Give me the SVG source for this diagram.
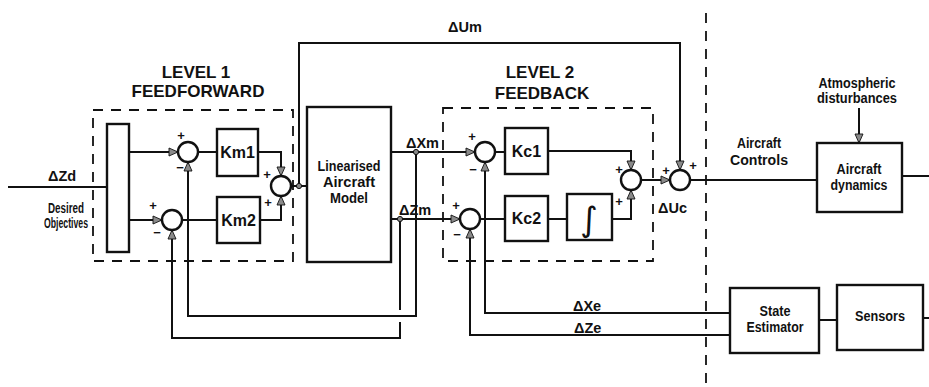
<svg xmlns="http://www.w3.org/2000/svg" width="929" height="387" viewBox="0 0 929 387">
<style>
text{font-family:"Liberation Sans",Arial,sans-serif;font-weight:bold;fill:#111}
.box{fill:#fff;stroke:#111;stroke-width:2.4}
.sum{fill:#fff;stroke:#111;stroke-width:2.4}
.dash{fill:none;stroke:#111;stroke-width:1.8;stroke-dasharray:10 8}
.ln{fill:none;stroke:#111;stroke-width:2}
.ar{fill:none;stroke:#111;stroke-width:2;marker-end:url(#ah)}
.dot{fill:#888;stroke:#111;stroke-width:1}
.t16{font-size:16px;text-anchor:middle}
.t17{font-size:17px;text-anchor:middle}
.t14{font-size:14.5px}
.t13{font-size:14px;text-anchor:middle}
.sg{font-size:13px;text-anchor:middle}
</style>
<defs>
<marker id="ah" markerUnits="userSpaceOnUse" markerWidth="11" markerHeight="10" refX="10" refY="5" orient="auto">
<path d="M1,1 L10,5 L1,9 z" fill="#8a8a8a" stroke="#111" stroke-width="0.9"/>
</marker>
</defs>

<!-- region frames -->
<g id="level1-frame">
<rect class="dash" x="93" y="110" width="200" height="151"/>
<text class="t17" x="196" y="78">LEVEL 1</text>
<text class="t17" x="198" y="97">FEEDFORWARD</text>
</g>
<g id="level2-frame">
<rect class="dash" x="443" y="108" width="210" height="153"/>
<text class="t17" x="540" y="78">LEVEL 2</text>
<text class="t17" x="542" y="99">FEEDBACK</text>
</g>
<g id="divider">
<line class="dash" x1="706" y1="13" x2="706" y2="387" stroke-width="2"/>
</g>

<!-- connectors -->
<g id="connectors">
<path class="ln" d="M8,187 H107"/>
<path class="ar" d="M129,152 H178"/>
<path class="ar" d="M129,220 H162"/>
<path class="ln" d="M198,152 H217"/>
<path class="ln" d="M182,220 H217"/>
<path class="ar" d="M258,152 H281 V176"/>
<path class="ar" d="M260,220 H281 V196"/>
<path class="ln" d="M291,186 H307"/>
<path class="ar" d="M299,186 V43 H680 V170"/>
<path class="ar" d="M391,152 H475"/>
<path class="ar" d="M391,219 H460"/>
<path class="ar" d="M416,152 V316 H188 V162"/>
<path class="ln" d="M400,219 V310"/>
<path class="ar" d="M400,322 V338 H172 V230"/>
<path class="ln" d="M495,152 H505"/>
<path class="ln" d="M480,219 H505"/>
<path class="ar" d="M548,151 H631 V170"/>
<path class="ln" d="M548,219 H567"/>
<path class="ar" d="M612,219 H631 V190"/>
<path class="ar" d="M641,180 H670"/>
<path class="ln" d="M690,180 H817"/>
<path class="ln" d="M902,176 H929"/>
<path class="ar" d="M859,108 V143"/>
<path class="ar" d="M730,313 H485 V162"/>
<path class="ar" d="M730,335 H470 V229"/>
<path class="ln" d="M819,320 H837"/>
<path class="ln" d="M923,318 H929"/>
<circle class="dot" cx="299" cy="186" r="2.6"/>
<circle class="dot" cx="416" cy="152" r="2.6"/>
<circle class="dot" cx="400" cy="219" r="2.6"/>
</g>

<!-- labels on connectors -->
<g id="labels">
<text class="t14" x="48" y="181">ΔZd</text>
<text class="t13" x="66" y="213" textLength="36" lengthAdjust="spacingAndGlyphs">Desired</text>
<text class="t13" x="66" y="228" textLength="44" lengthAdjust="spacingAndGlyphs">Objectives</text>
<text class="t14" x="448" y="32">ΔUm</text>
<text class="t14" x="406" y="148">ΔXm</text>
<text class="t14" x="399" y="215">ΔZm</text>
<text class="t14" x="658" y="213">ΔUc</text>
<text class="t13" x="759" y="148" textLength="44" lengthAdjust="spacingAndGlyphs">Aircraft</text>
<text class="t13" x="759" y="165" font-size="15" textLength="58" lengthAdjust="spacingAndGlyphs">Controls</text>
<text class="t13" x="857" y="88" textLength="77" lengthAdjust="spacingAndGlyphs">Atmospheric</text>
<text class="t13" x="857" y="103" textLength="80" lengthAdjust="spacingAndGlyphs">disturbances</text>
<text class="t14" x="573" y="311">ΔXe</text>
<text class="t14" x="574" y="333">ΔZe</text>
</g>

<!-- nodes -->
<g id="splitter"><rect class="box" x="107" y="124" width="22" height="128"/></g>
<g id="sum1"><circle class="sum" cx="188" cy="152" r="10"/><text class="sg" x="181" y="140">+</text><text class="sg" x="180" y="172">−</text></g>
<g id="sum2"><circle class="sum" cx="172" cy="220" r="10"/><text class="sg" x="153" y="210">+</text><text class="sg" x="157" y="237">−</text></g>
<g id="km1"><rect class="box" x="217" y="129" width="41" height="47"/><text class="t16" x="237.5" y="158">Km1</text></g>
<g id="km2"><rect class="box" x="217" y="197" width="43" height="46"/><text class="t16" x="238.5" y="226">Km2</text></g>
<g id="sum3"><circle class="sum" cx="281" cy="186" r="10"/><text class="sg" x="267" y="179">+</text><text class="sg" x="268" y="207">+</text></g>
<g id="model"><rect class="box" x="307" y="107" width="84" height="155"/>
<text class="t13" x="349" y="171" textLength="63" lengthAdjust="spacingAndGlyphs">Linearised</text>
<text class="t13" x="349" y="187" textLength="52" lengthAdjust="spacingAndGlyphs">Aircraft</text>
<text class="t13" x="349" y="203" textLength="38" lengthAdjust="spacingAndGlyphs">Model</text></g>
<g id="sum4"><circle class="sum" cx="485" cy="152" r="10"/><text class="sg" x="472" y="141">+</text><text class="sg" x="473" y="174">−</text></g>
<g id="sum5"><circle class="sum" cx="470" cy="219" r="10"/><text class="sg" x="456" y="210">+</text><text class="sg" x="457" y="239">−</text></g>
<g id="kc1"><rect class="box" x="505" y="128" width="43" height="46"/><text class="t16" x="526.5" y="157">Kc1</text></g>
<g id="kc2"><rect class="box" x="505" y="196" width="43" height="45"/><text class="t16" x="526.5" y="224">Kc2</text></g>
<g id="integrator"><rect class="box" x="567" y="194" width="45" height="46"/><text x="589" y="231" font-size="34" text-anchor="middle" style="font-family:'DejaVu Sans',sans-serif;font-weight:normal">∫</text></g>
<g id="sum6"><circle class="sum" cx="631" cy="180" r="10"/><text class="sg" x="619" y="174">+</text><text class="sg" x="619" y="206">+</text></g>
<g id="sum7"><circle class="sum" cx="680" cy="180" r="10"/><text class="sg" x="666" y="175">+</text><text class="sg" x="693" y="170">+</text></g>
<g id="dynamics"><rect class="box" x="817" y="143" width="85" height="69"/>
<text class="t13" x="859" y="174" textLength="45" lengthAdjust="spacingAndGlyphs">Aircraft</text>
<text class="t13" x="859" y="190" textLength="57" lengthAdjust="spacingAndGlyphs">dynamics</text></g>
<g id="estimator"><rect class="box" x="730" y="288" width="89" height="65"/>
<text class="t13" x="775" y="316" textLength="31" lengthAdjust="spacingAndGlyphs">State</text>
<text class="t13" x="775" y="332" textLength="57" lengthAdjust="spacingAndGlyphs">Estimator</text></g>
<g id="sensors"><rect class="box" x="837" y="285" width="86" height="65"/>
<text class="t13" x="880" y="321" textLength="50" lengthAdjust="spacingAndGlyphs">Sensors</text></g>
</svg>
